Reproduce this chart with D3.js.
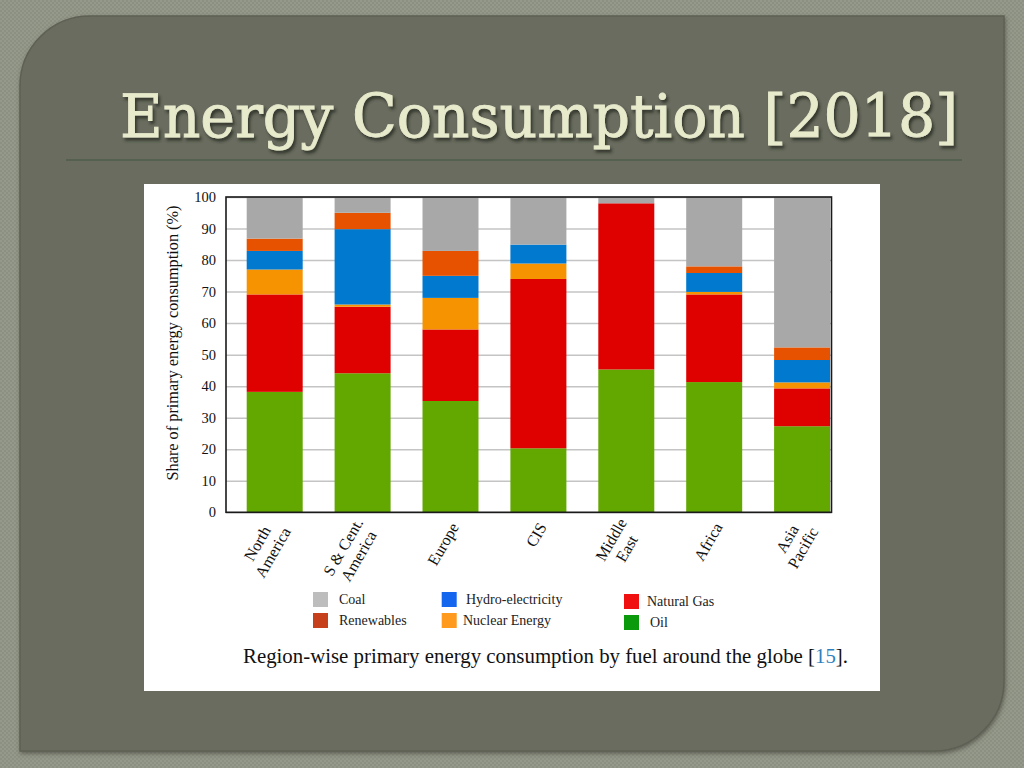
<!DOCTYPE html>
<html><head><meta charset="utf-8">
<script src="https://cdn.jsdelivr.net/npm/d3@7"></script>
<style>html,body{margin:0;padding:0;background:#8b8f82;}svg{display:block;}</style>
</head><body>
<svg id="c" width="1024" height="768"></svg>
<script>
// ---- data ----
const regions = ["North America","S & Cent. America","Europe","CIS","Middle East","Africa","Asia Pacific"];
const regionLines = [["North","America"],["S & Cent.","America"],["Europe"],["CIS"],["Middle","East"],["Africa"],["Asia","Pacific"]];
const fuels = ["Oil","Natural Gas","Nuclear Energy","Hydro-electricity","Renewables","Coal"];
const oil        = [38.2, 44.1, 35.3, 20.3, 45.3, 41.3, 27.3];
const naturalGas = [30.9, 21.1, 22.7, 53.7, 52.7, 27.8, 12.0];
const nuclear    = [ 7.9,  0.7, 10.0,  4.9,  0.0,  0.8,  1.9];
const hydro      = [ 5.9, 23.9,  7.0,  6.0,  0.0,  6.0,  7.1];
const renewables = [ 3.9,  5.2,  7.9,  0.0,  0.0,  2.1,  4.0];
const coal       = [13.2,  5.0, 17.1, 15.1,  2.0, 22.0, 47.7];
const yTicks = [0,10,20,30,40,50,60,70,80,90,100];
const legendOrder = [["Coal","Renewables"],["Hydro-electricity","Nuclear Energy"],["Natural Gas","Oil"]];
const titleText = "Energy Consumption [2018]";
const yTitle = "Share of primary energy consumption (%)";
const captionText = "Region-wise primary energy consumption by fuel around the globe ";
const captionRef = "15";

// ---- styling ----
const barColors = {"Oil":"#63a800","Natural Gas":"#df0000","Nuclear Energy":"#f59400","Hydro-electricity":"#0079cf","Renewables":"#e65200","Coal":"#a8a8a8"};
const legendColors = {"Coal":"#bdbdbd","Renewables":"#c5401b","Hydro-electricity":"#1466ee","Nuclear Energy":"#ff9a1f","Natural Gas":"#f01010","Oil":"#0b9a0b"};

const svg = d3.select("#c");
const defs = svg.append("defs");
const pat = defs.append("pattern").attr("id","tex").attr("width",4).attr("height",4).attr("patternUnits","userSpaceOnUse");
pat.append("rect").attr("width",4).attr("height",4).attr("fill","#8c9083");
pat.append("rect").attr("width",2).attr("height",2).attr("fill","#959989");
pat.append("rect").attr("x",2).attr("y",2).attr("width",2).attr("height",2).attr("fill","#959989");
const tsh = defs.append("filter").attr("id","tsh").attr("x","-5%").attr("y","-20%").attr("width","110%").attr("height","150%");
tsh.append("feDropShadow").attr("dx",2).attr("dy",3).attr("stdDeviation",1.6).attr("flood-color","#2c2e26").attr("flood-opacity",0.85);
const pshadow = defs.append("filter").attr("id","psh").attr("x","-5%").attr("y","-5%").attr("width","110%").attr("height","110%");
pshadow.append("feDropShadow").attr("dx",1).attr("dy",2).attr("stdDeviation",2).attr("flood-color","#3c3e35").attr("flood-opacity",0.6);

svg.append("rect").attr("width",1024).attr("height",768).attr("fill","url(#tex)");

// panel
const x0=20,y0=16,x1=1004,y1=751,r=70;
svg.append("path")
  .attr("d",`M${x0},${y0+r} A${r},${r} 0 0 1 ${x0+r},${y0} L${x1},${y0} L${x1},${y1-r} A${r},${r} 0 0 1 ${x1-r},${y1} L${x0},${y1} Z`)
  .attr("fill","#6a6c5f").attr("stroke","#5e6054").attr("stroke-width",1.5).attr("filter","url(#psh)");

// title
svg.append("text").attr("x",120).attr("y",137).text(titleText)
  .attr("font-family","DejaVu Serif").attr("font-size",60).attr("textLength",838).attr("lengthAdjust","spacingAndGlyphs")
  .attr("fill","#e8eacc").attr("stroke","#e8eacc").attr("stroke-width",0.9).attr("filter","url(#tsh)");
svg.append("line").attr("x1",66).attr("x2",962).attr("y1",160).attr("y2",160).attr("stroke","#56604f").attr("stroke-width",2);

// white figure
svg.append("rect").attr("x",144).attr("y",184).attr("width",736).attr("height",507).attr("fill","#ffffff");

// scales
const pL=226, pR=831.5, pT=197, pB=512.3;
const x = d3.scaleBand().domain(regions).range([246.7,830.1]).paddingInner(0.363).paddingOuter(0);
const y = d3.scaleLinear().domain([0,100]).range([pB,pT]);

// grid
svg.append("g").attr("transform",`translate(${pL},0)`)
  .call(d3.axisLeft(y).tickValues(yTicks).tickSize(-(pR-pL)).tickFormat(""))
  .call(g=>g.select(".domain").remove())
  .call(g=>g.selectAll("line").attr("stroke","#c4c4c4").attr("stroke-width",1.5));

// stacked bars
const rows = regions.map((reg,i)=>({region:reg,"Oil":oil[i],"Natural Gas":naturalGas[i],"Nuclear Energy":nuclear[i],"Hydro-electricity":hydro[i],"Renewables":renewables[i],"Coal":coal[i]}));
const stack = d3.stack().keys(fuels)(rows);
svg.append("g").selectAll("g").data(stack).join("g").attr("fill",d=>barColors[d.key])
  .selectAll("rect").data(d=>d).join("rect")
  .attr("x",d=>x(d.data.region)).attr("width",x.bandwidth())
  .attr("y",d=>y(d[1])).attr("height",d=>Math.max(0,y(d[0])-y(d[1])));

// frame
svg.append("rect").attr("x",pL).attr("y",pT).attr("width",pR-pL).attr("height",pB-pT)
  .attr("fill","none").attr("stroke","#1a1a1a").attr("stroke-width",1.6);

// y axis labels
const yAxis = svg.append("g").attr("transform",`translate(${pL},0)`)
  .call(d3.axisLeft(y).tickValues(yTicks).tickSize(0).tickPadding(10));
yAxis.select(".domain").remove();
yAxis.selectAll("text").attr("font-family","Liberation Serif").attr("font-size",14.5).attr("fill","#111");

svg.append("text").attr("transform","translate(178,343) rotate(-90)").attr("text-anchor","middle")
  .attr("font-family","Liberation Serif").attr("font-size",16.3).attr("fill","#111").text(yTitle);

// x labels
const fs=16, lh=18;
regions.forEach((reg,i)=>{
  const cx = x(reg)+x.bandwidth()/2;
  const g = svg.append("g").attr("transform",`translate(${cx+4},${524}) rotate(-60)`);
  const lines = regionLines[i];
  const t = g.append("text").attr("font-family","Liberation Serif").attr("font-size",fs).attr("fill","#111").attr("text-anchor","middle");
  const spans = lines.map((ln,k)=>t.append("tspan").text(ln));
  const wmax = d3.max(spans.map(s=>s.node().getComputedTextLength()));
  spans.forEach((s,k)=>s.attr("x",-wmax/2).attr("y",(k-(lines.length-1)/2)*lh+fs*0.35));
});

// legend
const legendPos = [[313,339],[441.7,466],[624,647]];
legendOrder.forEach((col,ci)=>{
  col.forEach((name,ri)=>{
    const sx=legendPos[ci][0], sy=(ci===2?594:592)+ri*21;
    svg.append("rect").attr("x",sx).attr("y",sy).attr("width",15).attr("height",15).attr("fill",legendColors[name]);
    svg.append("text").attr("x",legendPos[ci][1]+(ci===1&&ri===1?-3:0)+(ci===2&&ri===1?3:0)).attr("y",sy+11.5)
      .attr("font-family","Liberation Serif").attr("font-size",14).attr("fill","#222").text(name);
  });
});

// caption
const cap = svg.append("text").attr("x",243).attr("y",663).attr("font-family","Liberation Serif").attr("font-size",20)
  .attr("fill","#111").attr("textLength",605).attr("lengthAdjust","spacingAndGlyphs");
cap.append("tspan").text(captionText+"[");
cap.append("tspan").attr("fill","#2f7fbf").text(captionRef);
cap.append("tspan").text("].");
</script>
</body></html>
